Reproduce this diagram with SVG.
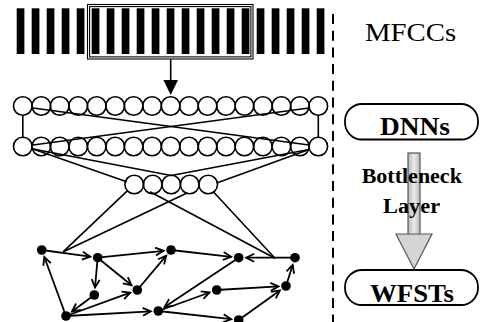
<svg xmlns="http://www.w3.org/2000/svg" xmlns:xlink="http://www.w3.org/1999/xlink" width="481" height="322" viewBox="0 0 481 322">
  <style>
    .bar { fill: #000; }
    .frame { fill: none; stroke: #000; stroke-width: 1.1; }
    .unit { fill: none; stroke: #000; stroke-width: 1.6; }
    .link { fill: none; stroke: #000; stroke-width: 1.6; }
    .edge { fill: none; stroke: #000; stroke-width: 1.8; marker-end: url(#open); }
    .state { fill: #000; }
    .pill { fill: #fff; stroke: #000; stroke-width: 1.8; }
    .serif { font-family: "Liberation Serif", "Times New Roman", serif; fill: #000; }
    .bold { font-weight: bold; }
  </style>
  <defs>
    <marker id="open" viewBox="-10 -6 12 12" refX="0" refY="0" markerWidth="12" markerHeight="12" markerUnits="userSpaceOnUse" orient="auto">
      <path d="M-8,-4 L0,0 L-8,4" fill="none" stroke="#000" stroke-width="1.8"/>
    </marker>
    <circle id="u" r="9.3" class="unit"/>
    <linearGradient id="shaft" x1="0" y1="0" x2="1" y2="0">
      <stop offset="0" stop-color="#b8b8b8"/>
      <stop offset="0.5" stop-color="#ececec"/>
      <stop offset="1" stop-color="#b8b8b8"/>
    </linearGradient>
  </defs>

  <rect width="481" height="322" fill="#fff"/>

  <!-- input feature frames with the context window -->
  <g id="mfcc-frames">
    <rect class="bar" x="16.7" y="8.3" width="7.7" height="45.7"/>
    <rect class="bar" x="31.7" y="8.3" width="7.7" height="45.7"/>
    <rect class="bar" x="46.7" y="8.3" width="7.7" height="45.7"/>
    <rect class="bar" x="61.7" y="8.3" width="7.7" height="45.7"/>
    <rect class="bar" x="76.7" y="8.3" width="7.7" height="45.7"/>
    <rect class="bar" x="91.7" y="8.3" width="7.7" height="45.7"/>
    <rect class="bar" x="106.7" y="8.3" width="7.7" height="45.7"/>
    <rect class="bar" x="121.7" y="8.3" width="7.7" height="45.7"/>
    <rect class="bar" x="136.7" y="8.3" width="7.7" height="45.7"/>
    <rect class="bar" x="151.7" y="8.3" width="7.7" height="45.7"/>
    <rect class="bar" x="166.7" y="8.3" width="7.7" height="45.7"/>
    <rect class="bar" x="181.7" y="8.3" width="7.7" height="45.7"/>
    <rect class="bar" x="196.7" y="8.3" width="7.7" height="45.7"/>
    <rect class="bar" x="211.7" y="8.3" width="7.7" height="45.7"/>
    <rect class="bar" x="226.7" y="8.3" width="7.7" height="45.7"/>
    <rect class="bar" x="241.7" y="8.3" width="7.7" height="45.7"/>
    <rect class="bar" x="256.7" y="8.3" width="7.7" height="45.7"/>
    <rect class="bar" x="271.7" y="8.3" width="7.7" height="45.7"/>
    <rect class="bar" x="286.7" y="8.3" width="7.7" height="45.7"/>
    <rect class="bar" x="301.7" y="8.3" width="7.7" height="45.7"/>
    <rect class="bar" x="316.7" y="8.3" width="7.7" height="45.7"/>
    <rect class="frame" x="87.5" y="4.5" width="165.5" height="54.5"/>
    <rect class="frame" x="89.6" y="6.6" width="161.3" height="50.3"/>
  </g>

  <!-- first hidden layer -->
  <g id="hidden-1">
    <use href="#u" x="22.8" y="106"/>
    <use href="#u" x="41.3" y="106"/>
    <use href="#u" x="59.7" y="106"/>
    <use href="#u" x="78.2" y="106"/>
    <use href="#u" x="96.7" y="106"/>
    <use href="#u" x="115.2" y="106"/>
    <use href="#u" x="133.6" y="106"/>
    <use href="#u" x="152.1" y="106"/>
    <use href="#u" x="170.6" y="106"/>
    <use href="#u" x="189.0" y="106"/>
    <use href="#u" x="207.5" y="106"/>
    <use href="#u" x="226.0" y="106"/>
    <use href="#u" x="244.4" y="106"/>
    <use href="#u" x="262.9" y="106"/>
    <use href="#u" x="281.4" y="106"/>
    <use href="#u" x="299.9" y="106"/>
    <use href="#u" x="318.3" y="106"/>
  </g>

  <!-- second hidden layer -->
  <g id="hidden-2">
    <use href="#u" x="22.8" y="146.5"/>
    <use href="#u" x="41.3" y="146.5"/>
    <use href="#u" x="59.7" y="146.5"/>
    <use href="#u" x="78.2" y="146.5"/>
    <use href="#u" x="96.7" y="146.5"/>
    <use href="#u" x="115.2" y="146.5"/>
    <use href="#u" x="133.6" y="146.5"/>
    <use href="#u" x="152.1" y="146.5"/>
    <use href="#u" x="170.6" y="146.5"/>
    <use href="#u" x="189.0" y="146.5"/>
    <use href="#u" x="207.5" y="146.5"/>
    <use href="#u" x="226.0" y="146.5"/>
    <use href="#u" x="244.4" y="146.5"/>
    <use href="#u" x="262.9" y="146.5"/>
    <use href="#u" x="281.4" y="146.5"/>
    <use href="#u" x="299.9" y="146.5"/>
    <use href="#u" x="318.3" y="146.5"/>
  </g>

  <!-- bottleneck layer -->
  <g id="bottleneck">
    <use href="#u" x="134.2" y="184.5"/>
    <use href="#u" x="152.7" y="184.5"/>
    <use href="#u" x="171.2" y="184.5"/>
    <use href="#u" x="189.7" y="184.5"/>
    <use href="#u" x="208.2" y="184.5"/>
  </g>

  <!-- decoding graph states -->
  <g id="s1"><circle class="state" cx="41.7" cy="250" r="4.8"/></g>
  <g id="s2"><circle class="state" cx="97.7" cy="257.7" r="4.8"/></g>
  <g id="s3"><circle class="state" cx="171" cy="250" r="4.8"/></g>
  <g id="s4"><circle class="state" cx="238.7" cy="257.7" r="4.8"/></g>
  <g id="s5"><circle class="state" cx="295" cy="257.7" r="4.8"/></g>
  <g id="s6"><circle class="state" cx="94.3" cy="295" r="4.8"/></g>
  <g id="s7"><circle class="state" cx="137.3" cy="290" r="4.8"/></g>
  <g id="s8"><circle class="state" cx="216.7" cy="290" r="4.8"/></g>
  <g id="s9"><circle class="state" cx="286" cy="286" r="4.8"/></g>
  <g id="s10"><circle class="state" cx="66" cy="316" r="4.8"/></g>
  <g id="s11"><circle class="state" cx="158.3" cy="311" r="4.8"/></g>
  <g id="s12"><circle class="state" cx="238.7" cy="320" r="4.8"/></g>

  <g id="connectors">
    <!-- window to first layer -->
    <line class="link" x1="170.7" y1="59.5" x2="170.7" y2="82"/>
    <polygon points="163.4,80 178,80 170.7,95" fill="#000"/>
    <!-- layer to layer -->
    <line class="link" x1="22.8" y1="115.3" x2="22.8" y2="137.2"/>
    <line class="link" x1="318.3" y1="115.3" x2="318.3" y2="137.2"/>
    <line class="link" x1="33" y1="108" x2="309" y2="145"/>
    <line class="link" x1="33" y1="145" x2="309" y2="108"/>
    <line class="link" x1="33" y1="149" x2="126.7" y2="181.7"/>
    <line class="link" x1="33" y1="149" x2="171.2" y2="175.5"/>
    <line class="link" x1="309" y1="149.5" x2="171.2" y2="175.5"/>
    <line class="link" x1="309" y1="149.5" x2="216.7" y2="183"/>
    <!-- bottleneck to graph -->
    <line class="link" x1="127.3" y1="190.9" x2="63.3" y2="251.7"/>
    <line class="link" x1="187" y1="193" x2="63.3" y2="251.7"/>
    <line class="link" x1="150" y1="191.7" x2="275" y2="258.3"/>
    <line class="link" x1="213.3" y1="191.7" x2="275" y2="258.3"/>
    <!-- graph transitions -->
    <line class="edge" x1="41.7" y1="250" x2="90.3" y2="256.7"/>
    <line class="edge" x1="97.7" y1="257.7" x2="163.5" y2="250.8"/>
    <line class="edge" x1="171" y1="250" x2="231.2" y2="256.8"/>
    <line class="edge" x1="295" y1="257.7" x2="246.2" y2="257.7"/>
    <line class="edge" x1="97.7" y1="257.7" x2="95" y2="287.5"/>
    <line class="edge" x1="97.7" y1="257.7" x2="131.5" y2="285.3"/>
    <line class="edge" x1="137.3" y1="290" x2="166.2" y2="255.7"/>
    <line class="edge" x1="94.3" y1="295" x2="72" y2="311.5"/>
    <line class="edge" x1="66" y1="316" x2="130.3" y2="292.6"/>
    <line class="edge" x1="66" y1="316" x2="44.3" y2="257"/>
    <line class="edge" x1="66" y1="316" x2="150.8" y2="311.4"/>
    <line class="edge" x1="238.7" y1="257.7" x2="164.6" y2="306.9"/>
    <line class="edge" x1="158.3" y1="311" x2="209.6" y2="292.5"/>
    <line class="edge" x1="216.7" y1="290" x2="278.5" y2="286.4"/>
    <line class="edge" x1="158.3" y1="311" x2="231.2" y2="319.2"/>
    <line class="edge" x1="238.7" y1="320" x2="279.9" y2="290.4"/>
    <line class="edge" x1="286" y1="286" x2="292.7" y2="264.9"/>
    <!-- divider -->
    <line x1="333" y1="14" x2="333" y2="322" stroke="#000" stroke-width="2" stroke-dasharray="10 6.7"/>
  </g>

  <g id="label-mfccs">
    <text class="serif" transform="translate(365,41) scale(1.15,1)" font-size="25">MFCCs</text>
  </g>

  <g id="bottleneck-arrow">
    <rect x="408" y="153" width="12" height="82" fill="url(#shaft)" stroke="#555" stroke-width="1.2"/>
    <polygon points="396,234 432,234 414,269" fill="#d4d4d4" stroke="#555" stroke-width="1.2"/>
    <text class="serif bold" transform="translate(361.7,182.7) scale(1.1,1)" font-size="20">Bottleneck</text>
    <text class="serif bold" transform="translate(383,213.3) scale(1.09,1)" font-size="20.5">Layer</text>
  </g>

  <g id="dnns">
    <rect class="pill" x="345" y="104" width="133" height="35.5" rx="17" ry="17"/>
    <text class="serif bold" transform="translate(380,135) scale(1.095,1)" font-size="25">DNNs</text>
  </g>

  <g id="wfsts">
    <rect class="pill" x="345" y="270" width="133" height="35" rx="17" ry="17"/>
    <text class="serif bold" transform="translate(370,301.5) scale(1.073,1)" font-size="25">WFSTs</text>
  </g>
</svg>
